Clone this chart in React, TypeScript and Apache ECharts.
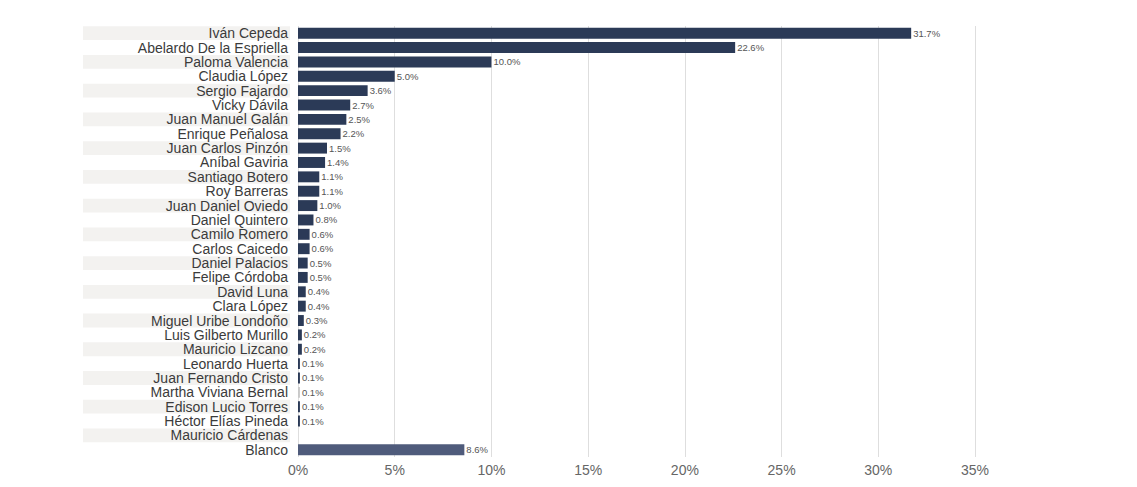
import { useEffect, useRef } from 'react'
import * as echarts from 'echarts'

const candidates = [
  'Iván Cepeda',
  'Abelardo De la Espriella',
  'Paloma Valencia',
  'Claudia López',
  'Sergio Fajardo',
  'Vicky Dávila',
  'Juan Manuel Galán',
  'Enrique Peñalosa',
  'Juan Carlos Pinzón',
  'Aníbal Gaviria',
  'Santiago Botero',
  'Roy Barreras',
  'Juan Daniel Oviedo',
  'Daniel Quintero',
  'Camilo Romero',
  'Carlos Caicedo',
  'Daniel Palacios',
  'Felipe Córdoba',
  'David Luna',
  'Clara López',
  'Miguel Uribe Londoño',
  'Luis Gilberto Murillo',
  'Mauricio Lizcano',
  'Leonardo Huerta',
  'Juan Fernando Cristo',
  'Martha Viviana Bernal',
  'Edison Lucio Torres',
  'Héctor Elías Pineda',
  'Mauricio Cárdenas',
  'Blanco',
]

const shares: Array<number | null> = [
  31.7, 22.6, 10.0, 5.0, 3.6, 2.7, 2.5, 2.2, 1.5, 1.4, 1.1, 1.1, 1.0, 0.8, 0.6,
  0.6, 0.5, 0.5, 0.4, 0.4, 0.3, 0.2, 0.2, 0.1, 0.1, 0.1, 0.1, 0.1, null, 8.6,
]

const axisTicks = [0, 5, 10, 15, 20, 25, 30, 35]

const barColor = '#2b3a57'
const blankColor = '#4f5b7b'
const mutedColor = '#c9c9c9'

function colorFor(name: string): string {
  if (name === 'Blanco') return blankColor
  if (name === 'Martha Viviana Bernal') return mutedColor
  return barColor
}

export default function App() {
  const chartRef = useRef<HTMLDivElement | null>(null)

  useEffect(() => {
    if (!chartRef.current) {
      return undefined
    }

    const chart = echarts.init(chartRef.current, undefined, { renderer: 'svg' })
    const font = '"Liberation Sans", Arial, Helvetica, sans-serif'

    chart.setOption({
      animation: false,
      backgroundColor: '#ffffff',
      textStyle: { fontFamily: font },
      grid: [
        { left: 83, width: 207, top: 26, height: 431 },
        { left: 298, right: 162, top: 26, height: 431 },
      ],
      xAxis: [
        {
          type: 'value',
          gridIndex: 0,
          min: 0,
          max: 1,
          show: false,
        },
        {
          type: 'value',
          gridIndex: 1,
          min: axisTicks[0],
          max: axisTicks[axisTicks.length - 1],
          interval: 5,
          axisLine: { show: false },
          axisTick: { show: false },
          axisLabel: {
            formatter: '{value}%',
            color: '#666666',
            fontSize: 14,
            margin: 6,
          },
          splitLine: {
            show: true,
            lineStyle: { color: '#dedede', width: 1 },
          },
        },
      ],
      yAxis: [
        {
          type: 'category',
          gridIndex: 0,
          data: candidates,
          inverse: true,
          show: false,
        },
        {
          type: 'category',
          gridIndex: 1,
          data: candidates,
          inverse: true,
          z: 10,
          axisLine: { show: false },
          axisTick: { show: false },
          axisLabel: {
            interval: 0,
            color: '#3b3b3b',
            fontSize: 14,
            margin: 10,
          },
        },
      ],
      series: [
        {
          name: 'stripes',
          type: 'bar',
          xAxisIndex: 0,
          yAxisIndex: 0,
          silent: true,
          z: 0,
          barCategoryGap: '4%',
          itemStyle: { color: '#f3f2f0' },
          data: candidates.map((_, index) => (index % 2 === 0 ? 1 : 0)),
        },
        {
          name: 'Intención de voto',
          type: 'bar',
          xAxisIndex: 1,
          yAxisIndex: 1,
          barCategoryGap: '24%',
          data: candidates.map((name, index) => ({
            value: shares[index],
            itemStyle: { color: colorFor(name) },
          })),
          label: {
            show: true,
            position: 'right',
            distance: 2,
            color: '#555555',
            fontSize: 9.5,
            formatter: (params: { value: number | null }) =>
              params.value === null || params.value === undefined ? '' : `${params.value.toFixed(1)}%`,
          },
        },
      ],
    })

    return () => {
      chart.dispose()
    }
  }, [])

  return (
    <div
      ref={chartRef}
      style={{ position: 'absolute', left: 0, top: 0, width: 1137, height: 487 }}
    />
  )
}
